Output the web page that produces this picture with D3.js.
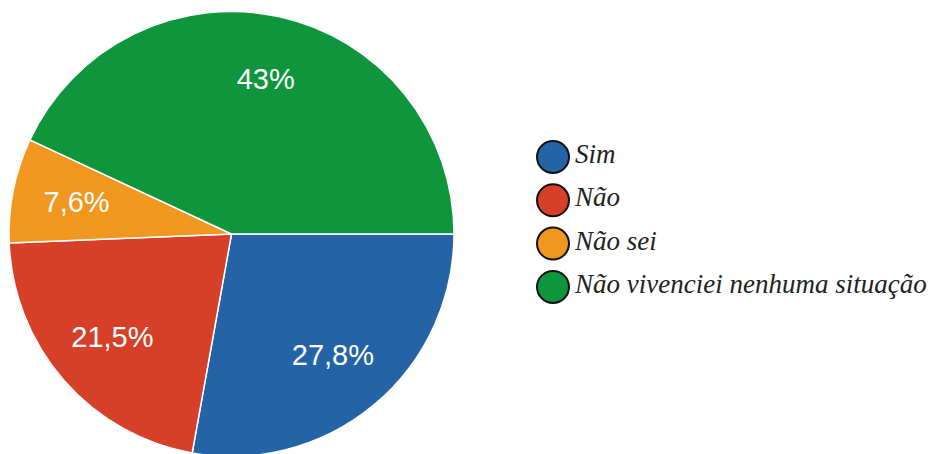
<!DOCTYPE html>
<html>
<head>
<meta charset="utf-8">
<script src="https://cdn.jsdelivr.net/npm/d3@7"></script>
<style>
  html, body { margin: 0; padding: 0; background: #fff; }
</style>
</head>
<body>
<svg id="pieChart" width="931" height="454"></svg>
<script>
const categories = ["Sim", "Não", "Não sei", "Não vivenciei nenhuma situação"];
const values = [27.8, 21.5, 7.6, 43];
const labels = ["27,8%", "21,5%", "7,6%", "43%"];
const colors = ["#2463a6", "#d63f28", "#f1961f", "#0f953c"];

const svg = d3.select("#pieChart");
const cx = 231.5, cy = 234, radius = 222.5;
const g = svg.append("g").attr("transform", `translate(${cx},${cy})`);

// google-style pie: starts at 3 o'clock, clockwise
const pie = d3.pie().value(d => d.value).sort(null)
  .startAngle(Math.PI / 2).endAngle(Math.PI / 2 + 2 * Math.PI);
const arc = d3.arc().innerRadius(0).outerRadius(radius);
const labelArc = d3.arc().innerRadius(158).outerRadius(158);

const color = d3.scaleOrdinal().domain(categories).range(colors);
const data = categories.map((name, i) => ({ name, value: values[i], label: labels[i] }));

g.selectAll("path")
  .data(pie(data))
  .join("path")
  .attr("d", arc)
  .attr("fill", d => color(d.data.name))
  .attr("stroke", "#fff")
  .attr("stroke-width", 1.5);

g.selectAll("text")
  .data(pie(data))
  .join("text")
  .attr("transform", d => `translate(${labelArc.centroid(d)})`)
  .attr("text-anchor", "middle")
  .attr("dy", "0.33em")
  .style("font-family", "\"Liberation Sans\", Arial, sans-serif")
  .style("font-size", "29px")
  .attr("fill", "#fff")
  .text(d => d.data.label);

// legend
const legend = svg.append("g").attr("transform", "translate(553,157)");
const item = legend.selectAll("g")
  .data(data)
  .join("g")
  .attr("transform", (d, i) => `translate(0,${i * 43.3})`);

item.append("circle")
  .attr("r", 16)
  .attr("fill", d => color(d.name))
  .attr("stroke", "#111")
  .attr("stroke-width", 2);

item.append("text")
  .attr("x", 22)
  .attr("y", 6)
  .style("font-family", "\"Liberation Serif\", \"Times New Roman\", serif")
  .style("font-style", "italic")
  .style("font-size", "27px")
  .attr("fill", "#222")
  .text(d => d.name);
</script>
</body>
</html>
